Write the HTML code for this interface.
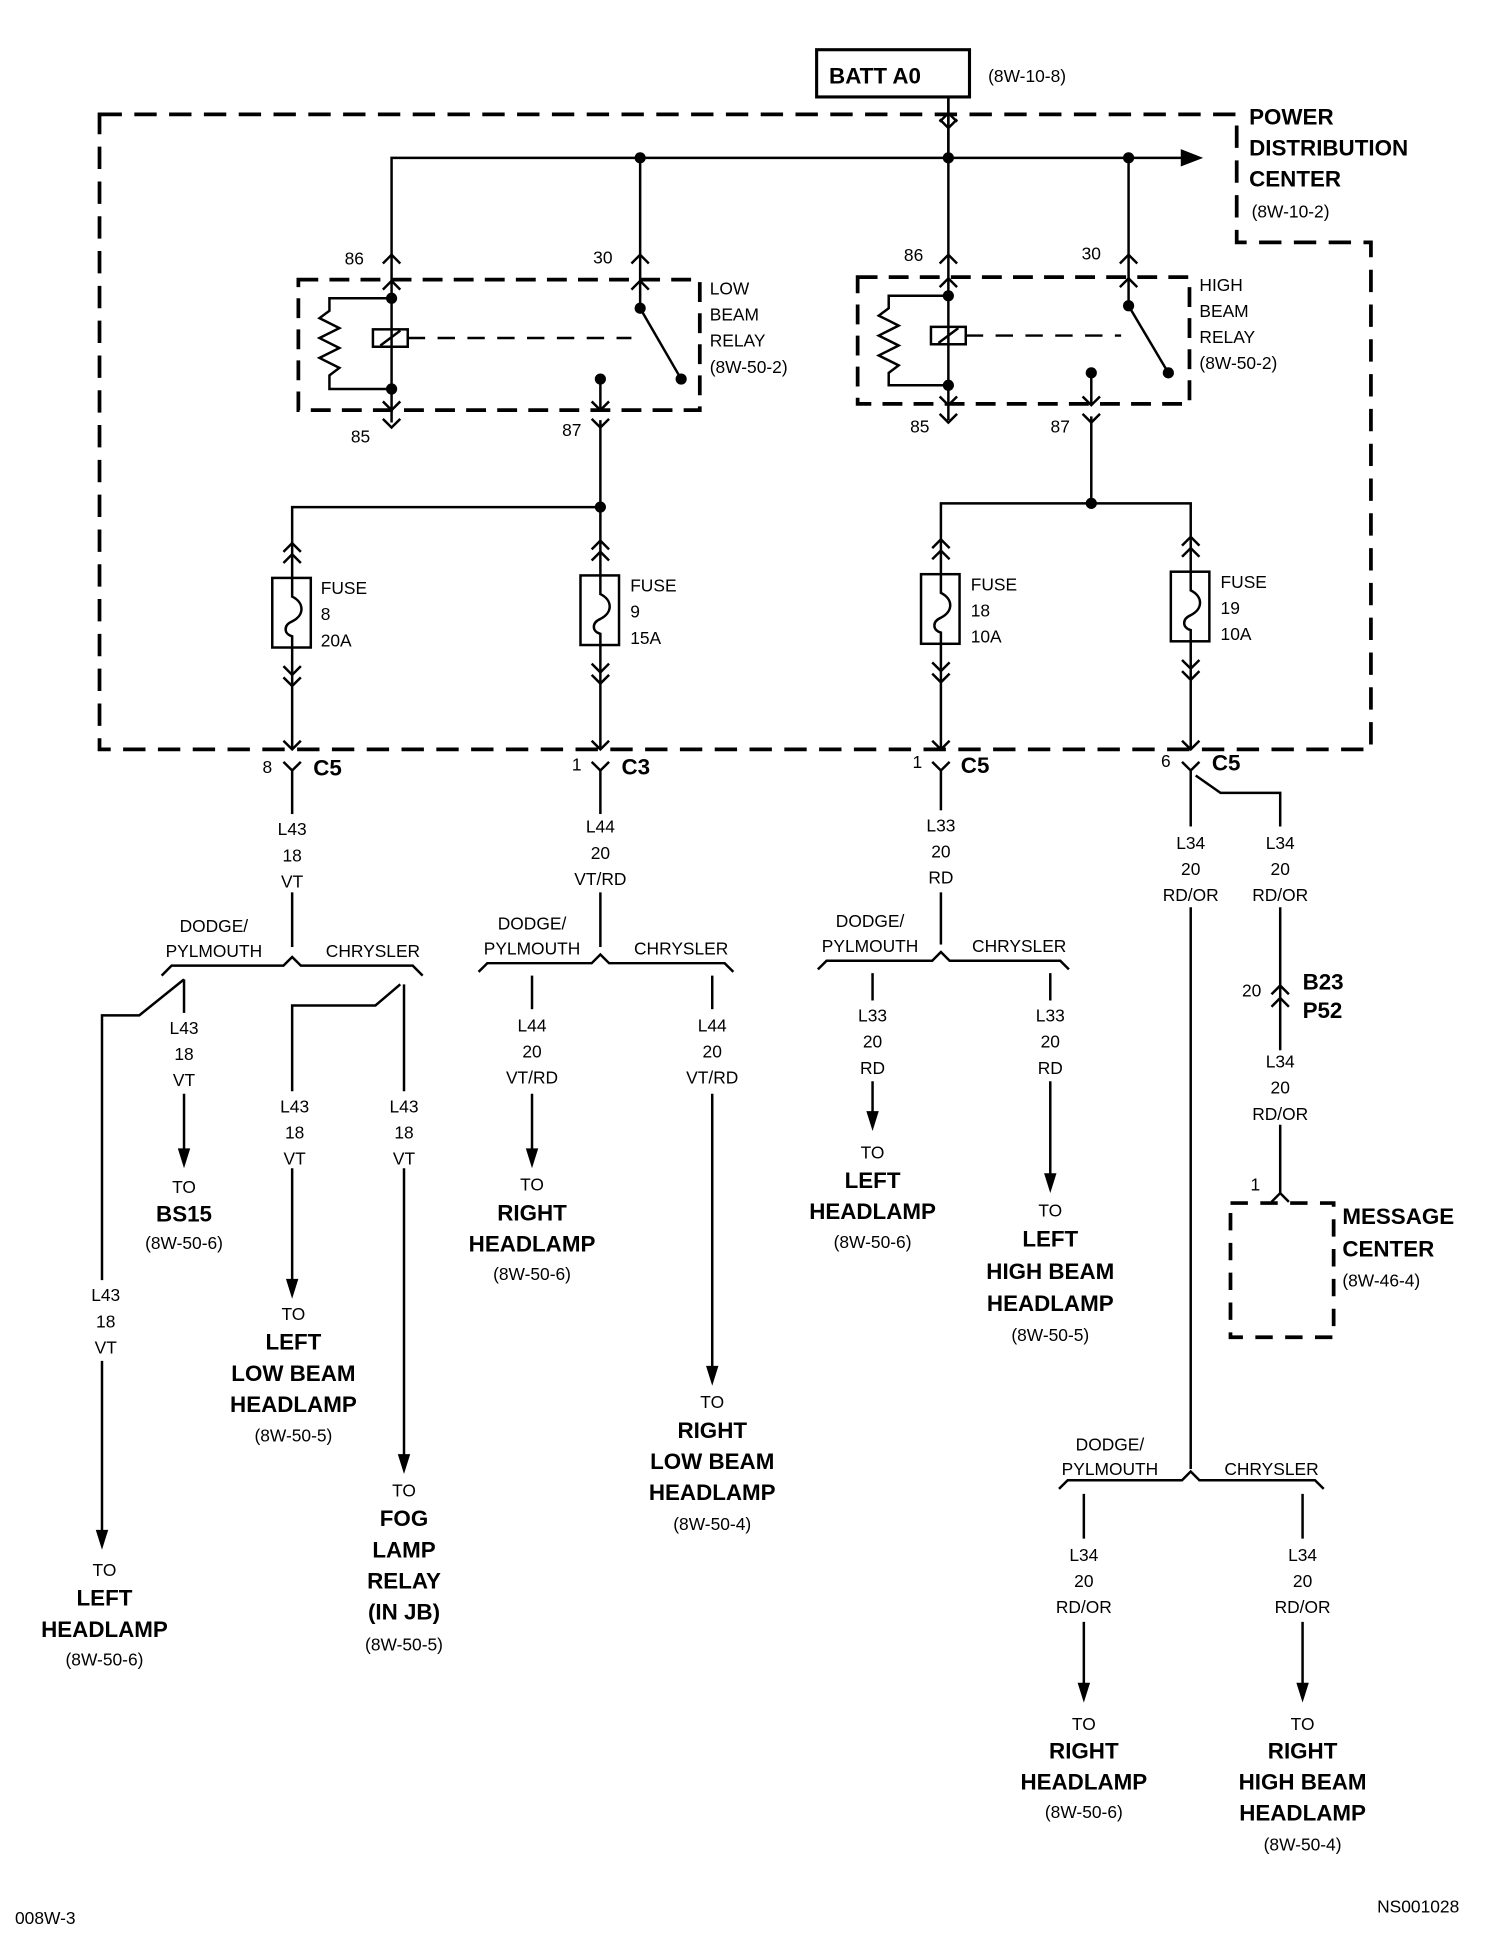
<!DOCTYPE html>
<html><head><meta charset="utf-8"><style>
html,body{margin:0;padding:0;background:#fff}
svg{display:block}
text{font-family:"Liberation Sans",sans-serif;fill:#000}
.s{font-size:14px;text-anchor:middle}
.sl{font-size:14px}
.b{font-size:18px;font-weight:bold;text-anchor:middle}
.bl{font-size:18px;font-weight:bold}
</style></head><body>
<svg width="1504" height="1950" viewBox="0 0 1210 1569" xmlns="http://www.w3.org/2000/svg">
<defs>
<path id="up" d="M-7,7 L0,0 L7,7" fill="none" stroke="#000" stroke-width="2"/>
<path id="dn" d="M-7,-7 L0,0 L7,-7" fill="none" stroke="#000" stroke-width="2"/>
<polygon id="ar" points="-5,-16 5,-16 0,0" fill="#000"/>
<circle id="dot" r="4.5" fill="#000"/>
</defs>
<g stroke="#000" stroke-width="2" fill="none">
<rect x="657" y="40" width="123" height="38" stroke-width="2.5"/>
<line x1="763" y1="78" x2="763" y2="127"/>
<path d="M80,92 H995 V195 H1103 V603 H80 Z" stroke-width="3" stroke-dasharray="18,10"/>
<path d="M315,212 V127 H955"/>
<line x1="515" y1="127" x2="515" y2="212"/>
<line x1="763" y1="78" x2="763" y2="212"/>
<line x1="908" y1="127" x2="908" y2="212"/>
<rect x="240" y="225" width="323" height="105" stroke-width="3" stroke-dasharray="16,9"/>
<rect x="690" y="223" width="267" height="102" stroke-width="3" stroke-dasharray="16,9"/>
<line x1="315" y1="212" x2="315" y2="340"/>
<path d="M315,240 H265 V250 L257,256 L273,264 L257,272 L273,280 L257,288 L273,296 L265,302 V313 H315"/>
<rect x="300" y="265" width="28" height="14"/>
<line x1="306" y1="278" x2="322" y2="266"/>
<line x1="328" y1="272" x2="508" y2="272" stroke-dasharray="14,10"/>
<line x1="515" y1="212" x2="515" y2="248"/>
<line x1="515" y1="248" x2="548" y2="305"/>
<line x1="483" y1="305" x2="483" y2="330"/>
<line x1="483" y1="338" x2="483" y2="408"/>
<line x1="763" y1="212" x2="763" y2="338"/>
<path d="M763,238 H715 V248 L707,254 L723,262 L707,270 L723,278 L707,286 L723,294 L715,300 V310 H763"/>
<rect x="749" y="263" width="28" height="14"/>
<line x1="755" y1="276" x2="771" y2="264"/>
<line x1="777" y1="270" x2="902" y2="270" stroke-dasharray="14,10"/>
<line x1="908" y1="212" x2="908" y2="246"/>
<line x1="908" y1="246" x2="940" y2="300"/>
<line x1="878" y1="300" x2="878" y2="326"/>
<line x1="878" y1="335" x2="878" y2="405"/>
<path d="M235,435 V408 H483 V435"/>
<path d="M757,435 V405 H958 V435"/>
<line x1="235" y1="435" x2="235" y2="603"/>
<line x1="483" y1="435" x2="483" y2="603"/>
<line x1="757" y1="435" x2="757" y2="603"/>
<line x1="958" y1="435" x2="958" y2="603"/>
</g>
<g fill="#fff" stroke="#000" stroke-width="2">
<rect x="219" y="465" width="31" height="56"/>
<rect x="467" y="463" width="31" height="56"/>
<rect x="741" y="462" width="31" height="56"/>
<rect x="942" y="460" width="31" height="56"/>
</g>
<g fill="none" stroke="#000" stroke-width="2">
<path d="M235,465 V480 C245,485 245,495 235,500 C228,503 228,510 235,512 V521"/>
<path d="M483,463 V478 C493,483 493,493 483,498 C476,501 476,508 483,510 V519"/>
<path d="M757,462 V477 C767,482 767,492 757,497 C750,500 750,507 757,509 V518"/>
<path d="M958,460 V475 C968,480 968,490 958,495 C951,498 951,505 958,507 V516"/>
</g>
<use href="#dn" x="763" y="103"/><use href="#up" x="763" y="91"/>
<use href="#up" x="315" y="205"/><use href="#up" x="315" y="226"/>
<use href="#up" x="515" y="205"/><use href="#up" x="515" y="226"/>
<use href="#up" x="763" y="205"/><use href="#up" x="763" y="224"/>
<use href="#up" x="908" y="205"/><use href="#up" x="908" y="224"/>
<use href="#dn" x="315" y="330"/><use href="#dn" x="315" y="344"/>
<use href="#dn" x="483" y="330"/><use href="#dn" x="483" y="344"/>
<use href="#dn" x="763" y="326"/><use href="#dn" x="763" y="340"/>
<use href="#dn" x="878" y="326"/><use href="#dn" x="878" y="340"/>
<use href="#dot" x="315" y="240"/><use href="#dot" x="315" y="313"/>
<use href="#dot" x="515" y="248"/><use href="#dot" x="548" y="305"/><use href="#dot" x="483" y="305"/>
<use href="#dot" x="763" y="238"/><use href="#dot" x="763" y="310"/>
<use href="#dot" x="908" y="246"/><use href="#dot" x="940" y="300"/><use href="#dot" x="878" y="300"/>
<use href="#dot" x="515" y="127"/><use href="#dot" x="763" y="127"/><use href="#dot" x="908" y="127"/>
<use href="#dot" x="483" y="408"/><use href="#dot" x="878" y="405"/>
<polygon points="950,120 968,127 950,134" fill="#000"/>
<g>
<use href="#up" x="235" y="437"/><use href="#up" x="235" y="446"/>
<use href="#dn" x="235" y="543"/><use href="#dn" x="235" y="552"/>
<use href="#up" x="483" y="435"/><use href="#up" x="483" y="444"/>
<use href="#dn" x="483" y="541"/><use href="#dn" x="483" y="550"/>
<use href="#up" x="757" y="434"/><use href="#up" x="757" y="443"/>
<use href="#dn" x="757" y="540"/><use href="#dn" x="757" y="549"/>
<use href="#up" x="958" y="432"/><use href="#up" x="958" y="441"/>
<use href="#dn" x="958" y="538"/><use href="#dn" x="958" y="547"/>
<use href="#dn" x="235" y="603"/><use href="#dn" x="235" y="620"/>
<use href="#dn" x="483" y="603"/><use href="#dn" x="483" y="620"/>
<use href="#dn" x="757" y="603"/><use href="#dn" x="757" y="620"/>
<use href="#dn" x="958" y="603"/><use href="#dn" x="958" y="620"/>
</g>
<g stroke="#000" stroke-width="2" fill="none">
<line x1="235" y1="620" x2="235" y2="655"/>
<line x1="235" y1="718" x2="235" y2="762"/>
<path d="M130,785 L138,777 H228 L235,770 L242,777 H332 L340,785"/>
<path d="M148,788 V815"/>
<path d="M148,788 L112,817 H82 V1030"/>
<line x1="148" y1="880" x2="148" y2="935"/>
<line x1="82" y1="1095" x2="82" y2="1240"/>
<path d="M322,792 L302,809 H235 V878"/>
<line x1="325" y1="792" x2="325" y2="878"/>
<line x1="235" y1="940" x2="235" y2="1040"/>
<line x1="325" y1="940" x2="325" y2="1180"/>
<line x1="483" y1="620" x2="483" y2="655"/>
<line x1="483" y1="718" x2="483" y2="762"/>
<path d="M385,782 L392,775 H476 L483,768 L490,775 H583 L590,782"/>
<line x1="428" y1="785" x2="428" y2="812"/>
<line x1="573" y1="785" x2="573" y2="812"/>
<line x1="428" y1="880" x2="428" y2="935"/>
<line x1="573" y1="880" x2="573" y2="1110"/>
<line x1="757" y1="620" x2="757" y2="652"/>
<line x1="757" y1="718" x2="757" y2="760"/>
<path d="M658,780 L665,773 H750 L757,766 L764,773 H853 L860,780"/>
<line x1="702" y1="783" x2="702" y2="805"/>
<line x1="845" y1="783" x2="845" y2="805"/>
<line x1="702" y1="870" x2="702" y2="905"/>
<line x1="845" y1="870" x2="845" y2="955"/>
<line x1="958" y1="620" x2="958" y2="665"/>
<path d="M962,624 L982,638 H1030 V665"/>
<line x1="1030" y1="730" x2="1030" y2="845"/>
<line x1="1030" y1="905" x2="1030" y2="960"/>
<rect x="990" y="968" width="83" height="108" stroke-width="3" stroke-dasharray="14,10"/>
<line x1="958" y1="730" x2="958" y2="1182"/>
<path d="M852,1198 L859,1191 H951 L958,1184 L965,1191 H1058 L1065,1198"/>
<line x1="872" y1="1202" x2="872" y2="1238"/>
<line x1="1048" y1="1202" x2="1048" y2="1238"/>
<line x1="872" y1="1305" x2="872" y2="1365"/>
<line x1="1048" y1="1305" x2="1048" y2="1365"/>
</g>
<use href="#up" x="1030" y="793"/><use href="#up" x="1030" y="803"/>
<use href="#up" x="1030" y="960"/>
<use href="#ar" x="148" y="940"/><use href="#ar" x="82" y="1247"/>
<use href="#ar" x="235" y="1045"/><use href="#ar" x="325" y="1186"/>
<use href="#ar" x="428" y="940"/><use href="#ar" x="573" y="1115"/>
<use href="#ar" x="702" y="910"/><use href="#ar" x="845" y="960"/>
<use href="#ar" x="872" y="1370"/><use href="#ar" x="1048" y="1370"/>
<text class="bl" x="667" y="67">BATT A0</text>
<text class="sl" x="795" y="66">(8W-10-8)</text>
<text class="bl" x="1005" y="100">POWER</text>
<text class="bl" x="1005" y="125">DISTRIBUTION</text>
<text class="bl" x="1005" y="150">CENTER</text>
<text class="sl" x="1007" y="175">(8W-10-2)</text>
<text class="s" x="285" y="213">86</text><text class="s" x="485" y="212">30</text>
<text class="s" x="735" y="210">86</text><text class="s" x="878" y="209">30</text>
<text class="s" x="290" y="356">85</text><text class="s" x="460" y="351">87</text>
<text class="s" x="740" y="348">85</text><text class="s" x="853" y="348">87</text>
<text class="sl" x="571" y="237">LOW</text><text class="sl" x="571" y="258">BEAM</text><text class="sl" x="571" y="279">RELAY</text><text class="sl" x="571" y="300">(8W-50-2)</text>
<text class="sl" x="965" y="234">HIGH</text><text class="sl" x="965" y="255">BEAM</text><text class="sl" x="965" y="276">RELAY</text><text class="sl" x="965" y="297">(8W-50-2)</text>
<text class="sl" x="258" y="478">FUSE</text><text class="sl" x="258" y="499">8</text><text class="sl" x="258" y="520">20A</text>
<text class="sl" x="507" y="476">FUSE</text><text class="sl" x="507" y="497">9</text><text class="sl" x="507" y="518">15A</text>
<text class="sl" x="781" y="475">FUSE</text><text class="sl" x="781" y="496">18</text><text class="sl" x="781" y="517">10A</text>
<text class="sl" x="982" y="473">FUSE</text><text class="sl" x="982" y="494">19</text><text class="sl" x="982" y="515">10A</text>
<text class="s" x="215" y="622">8</text><text class="bl" x="252" y="624">C5</text>
<text class="s" x="464" y="620">1</text><text class="bl" x="500" y="623">C3</text>
<text class="s" x="738" y="618">1</text><text class="bl" x="773" y="622">C5</text>
<text class="s" x="938" y="617">6</text><text class="bl" x="975" y="620">C5</text>
<g>
<text class="s" x="235" y="672">L43</text><text class="s" x="235" y="693">18</text><text class="s" x="235" y="714">VT</text>
<text class="s" x="172" y="750">DODGE/</text><text class="s" x="172" y="770">PYLMOUTH</text><text class="s" x="300" y="770">CHRYSLER</text>
<text class="s" x="148" y="832">L43</text><text class="s" x="148" y="853">18</text><text class="s" x="148" y="874">VT</text>
<text class="s" x="85" y="1047">L43</text><text class="s" x="85" y="1068">18</text><text class="s" x="85" y="1089">VT</text>
<text class="s" x="237" y="895">L43</text><text class="s" x="237" y="916">18</text><text class="s" x="237" y="937">VT</text>
<text class="s" x="325" y="895">L43</text><text class="s" x="325" y="916">18</text><text class="s" x="325" y="937">VT</text>
<text class="s" x="148" y="960">TO</text><text class="b" x="148" y="983">BS15</text><text class="s" x="148" y="1005">(8W-50-6)</text>
<text class="s" x="84" y="1268">TO</text><text class="b" x="84" y="1292">LEFT</text><text class="b" x="84" y="1317">HEADLAMP</text><text class="s" x="84" y="1340">(8W-50-6)</text>
<text class="s" x="236" y="1062">TO</text><text class="b" x="236" y="1086">LEFT</text><text class="b" x="236" y="1111">LOW BEAM</text><text class="b" x="236" y="1136">HEADLAMP</text><text class="s" x="236" y="1160">(8W-50-5)</text>
<text class="s" x="325" y="1204">TO</text><text class="b" x="325" y="1228">FOG</text><text class="b" x="325" y="1253">LAMP</text><text class="b" x="325" y="1278">RELAY</text><text class="b" x="325" y="1303">(IN JB)</text><text class="s" x="325" y="1328">(8W-50-5)</text>
<text class="s" x="483" y="670">L44</text><text class="s" x="483" y="691">20</text><text class="s" x="483" y="712">VT/RD</text>
<text class="s" x="428" y="748">DODGE/</text><text class="s" x="428" y="768">PYLMOUTH</text><text class="s" x="548" y="768">CHRYSLER</text>
<text class="s" x="428" y="830">L44</text><text class="s" x="428" y="851">20</text><text class="s" x="428" y="872">VT/RD</text>
<text class="s" x="573" y="830">L44</text><text class="s" x="573" y="851">20</text><text class="s" x="573" y="872">VT/RD</text>
<text class="s" x="428" y="958">TO</text><text class="b" x="428" y="982">RIGHT</text><text class="b" x="428" y="1007">HEADLAMP</text><text class="s" x="428" y="1030">(8W-50-6)</text>
<text class="s" x="573" y="1133">TO</text><text class="b" x="573" y="1157">RIGHT</text><text class="b" x="573" y="1182">LOW BEAM</text><text class="b" x="573" y="1207">HEADLAMP</text><text class="s" x="573" y="1231">(8W-50-4)</text>
<text class="s" x="757" y="669">L33</text><text class="s" x="757" y="690">20</text><text class="s" x="757" y="711">RD</text>
<text class="s" x="700" y="746">DODGE/</text><text class="s" x="700" y="766">PYLMOUTH</text><text class="s" x="820" y="766">CHRYSLER</text>
<text class="s" x="702" y="822">L33</text><text class="s" x="702" y="843">20</text><text class="s" x="702" y="864">RD</text>
<text class="s" x="845" y="822">L33</text><text class="s" x="845" y="843">20</text><text class="s" x="845" y="864">RD</text>
<text class="s" x="702" y="932">TO</text><text class="b" x="702" y="956">LEFT</text><text class="b" x="702" y="981">HEADLAMP</text><text class="s" x="702" y="1004">(8W-50-6)</text>
<text class="s" x="845" y="979">TO</text><text class="b" x="845" y="1003">LEFT</text><text class="b" x="845" y="1029">HIGH BEAM</text><text class="b" x="845" y="1055">HEADLAMP</text><text class="s" x="845" y="1079">(8W-50-5)</text>
<text class="s" x="958" y="683">L34</text><text class="s" x="958" y="704">20</text><text class="s" x="958" y="725">RD/OR</text>
<text class="s" x="1030" y="683">L34</text><text class="s" x="1030" y="704">20</text><text class="s" x="1030" y="725">RD/OR</text>
<text class="s" x="1007" y="802">20</text>
<text class="s" x="1030" y="859">L34</text><text class="s" x="1030" y="880">20</text><text class="s" x="1030" y="901">RD/OR</text>
<text class="s" x="1010" y="958">1</text>
<text class="s" x="893" y="1167">DODGE/</text><text class="s" x="893" y="1187">PYLMOUTH</text><text class="s" x="1023" y="1187">CHRYSLER</text>
<text class="s" x="872" y="1256">L34</text><text class="s" x="872" y="1277">20</text><text class="s" x="872" y="1298">RD/OR</text>
<text class="s" x="1048" y="1256">L34</text><text class="s" x="1048" y="1277">20</text><text class="s" x="1048" y="1298">RD/OR</text>
<text class="s" x="872" y="1392">TO</text><text class="b" x="872" y="1415">RIGHT</text><text class="b" x="872" y="1440">HEADLAMP</text><text class="s" x="872" y="1463">(8W-50-6)</text>
<text class="s" x="1048" y="1392">TO</text><text class="b" x="1048" y="1415">RIGHT</text><text class="b" x="1048" y="1440">HIGH BEAM</text><text class="b" x="1048" y="1465">HEADLAMP</text><text class="s" x="1048" y="1489">(8W-50-4)</text>
</g>
<text class="bl" x="1048" y="796">B23</text><text class="bl" x="1048" y="819">P52</text>
<text class="bl" x="1080" y="985">MESSAGE</text><text class="bl" x="1080" y="1011">CENTER</text><text class="sl" x="1080" y="1035">(8W-46-4)</text>
<text class="sl" x="12" y="1548">008W-3</text>
<text class="sl" x="1108" y="1539">NS001028</text>
</svg>
</body></html>
